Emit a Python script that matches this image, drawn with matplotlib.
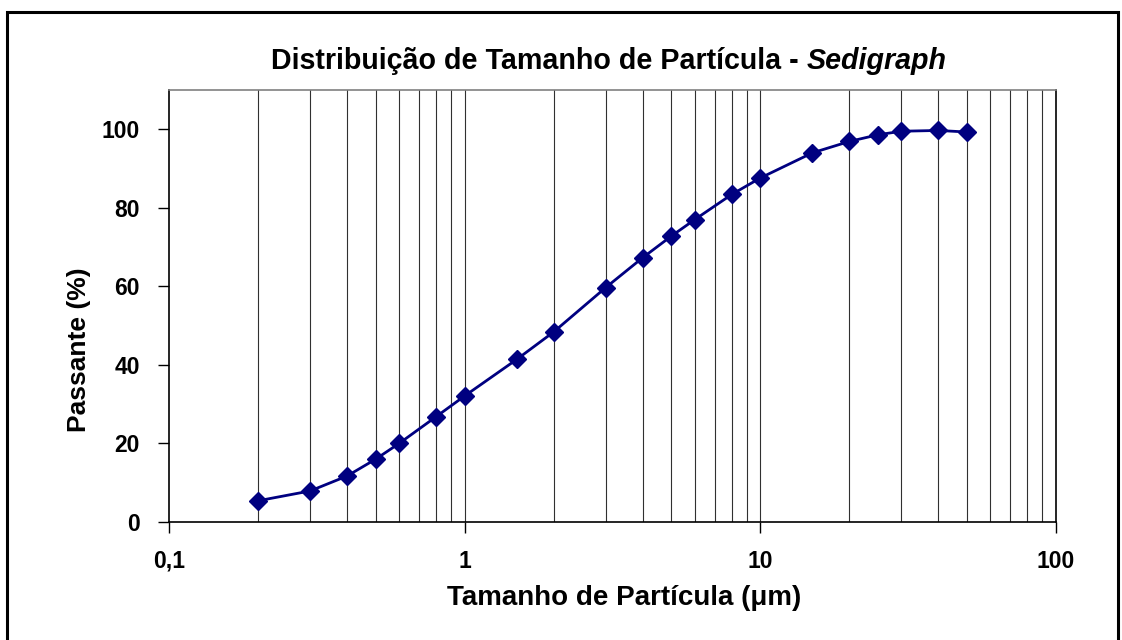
import numpy as np
import matplotlib.pyplot as plt
from matplotlib.ticker import FixedLocator, NullFormatter
from matplotlib.patches import Rectangle

# particle size (um) and cumulative passing (%)
tamanho = [0.2, 0.3, 0.4, 0.5, 0.6, 0.8, 1, 1.5, 2, 3, 4, 5, 6, 8, 10,
           15, 20, 25, 30, 40, 50]
passante = [5.4, 7.9, 11.7, 16.0, 20.0, 26.8, 32.1, 41.4, 48.4, 59.7, 67.3,
            72.8, 77.0, 83.4, 87.6, 94.0, 96.9, 98.6, 99.5, 99.7, 99.3]

x_ticks = [0.1, 1, 10, 100]
x_labels = ["0,1", "1", "10", "100"]
y_ticks = [0, 20, 40, 60, 80, 100]

plt.rcParams['font.family'] = ['Liberation Sans', 'DejaVu Sans']

fig = plt.figure(figsize=(11.22, 6.40), dpi=100)
W, H = 1122, 640
x0, x1, y0, y1 = 169, 1056, 90, 522
ax = fig.add_axes([x0/W, 1-y1/H, (x1-x0)/W, (y1-y0)/H])

# outer chart border
fig.patches.append(Rectangle((7/W, -0.02), (1118-7)/W, 1-12/H+0.02,
                             transform=fig.transFigure, fill=False,
                             edgecolor='black', linewidth=2.2))

ax.set_xscale('log')
ax.set_xlim(0.1, 100)
ax.set_ylim(0, 110)

# vertical gridlines at every minor + major decade line
grid_x = [m * 10.0**e for e in (-1, 0, 1) for m in range(1, 10)][1:]
for gx in grid_x:
    ax.axvline(gx, color='#303030', linewidth=0.8, zorder=1)

ax.plot(tamanho, passante, color='#000080', linewidth=2.0, marker='D',
        markersize=9, markerfacecolor='#000080', markeredgecolor='#000080',
        zorder=3)

ax.xaxis.set_major_locator(FixedLocator(x_ticks))
ax.set_xticklabels(x_labels)
ax.xaxis.set_minor_formatter(NullFormatter())
ax.tick_params(axis='x', which='minor', length=0)
ax.set_yticks(y_ticks)
ax.tick_params(axis='both', which='major', direction='out', length=8,
               width=1, labelsize=16.5)
ax.tick_params(axis='y', pad=13)
ax.tick_params(axis='x', pad=12)
for lab in ax.get_xticklabels() + ax.get_yticklabels():
    lab.set_fontweight('bold')

for side in ['left', 'bottom', 'right']:
    ax.spines[side].set_color('black')
    ax.spines[side].set_linewidth(1.2)
ax.spines['top'].set_color('#808080')
ax.spines['top'].set_linewidth(1.2)

ax.set_xlabel("Tamanho de Partícula (μm)", fontsize=20, fontweight='bold')
ax.xaxis.set_label_coords((624 - x0)/(x1 - x0), -(585 - y1)/(y1 - y0))
ax.set_ylabel("Passante (%)", fontsize=19, fontweight='bold')
ax.yaxis.set_label_coords(-(x0 - 91)/(x1 - x0), (y1 - 350)/(y1 - y0))

# title: bold part + bold italic "Sedigraph", centred together
t1 = fig.text(0, 1 - 61/H, "Distribuição de Tamanho de Partícula - ",
              ha='left', va='center', fontsize=20.6, fontweight='bold')
t2 = fig.text(0, 1 - 61/H, "Sedigraph", ha='left', va='center',
              fontsize=20.6, fontweight='bold', style='italic')
fig.canvas.draw()
r = fig.canvas.get_renderer()
w1 = t1.get_window_extent(r).width
w2 = t2.get_window_extent(r).width
start = 609 - (w1 + w2) / 2
t1.set_x(start / W)
t2.set_x((start + w1) / W)

fig.savefig("out.png", dpi=100)
